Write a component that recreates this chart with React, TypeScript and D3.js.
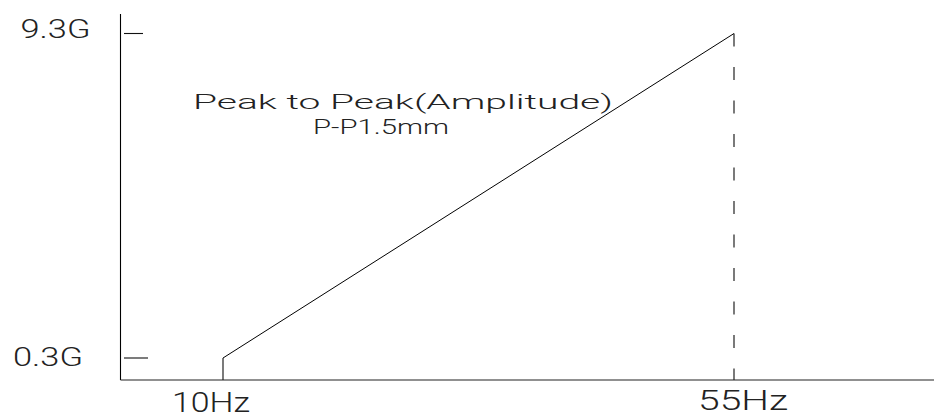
import React, { useEffect, useRef } from 'react';
import * as d3 from 'd3';

// vibration profile: constant displacement between the two frequency limits
const freqs = [10, 55];
const accels = [0.3, 9.3];
const freqLabels = ['10Hz', '55Hz'];
const accelLabels = ['0.3G', '9.3G'];
const noteLines = ['Peak to Peak(Amplitude)', 'P-P1.5mm'];

export default function App() {
  const svgRef = useRef<SVGSVGElement | null>(null);

  useEffect(() => {
    const svgEl = svgRef.current;
    if (!svgEl) return;

    const width = 934;
    const height = 418;
    const axisLeft = 120.5;
    const axisBottom = 380;
    const axisTop = 14;
    const axisRight = 934;
    const font = "Roboto, 'DejaVu Sans', sans-serif";

    const svg = d3.select(svgEl);
    svg.attr('viewBox', `0 0 ${width} ${height}`);
    svg.selectAll('*').remove();

    const x = d3.scaleLinear().domain([freqs[0], freqs[1]]).range([223, 734]);
    const y = d3.scaleLinear().domain([accels[0], accels[1]]).range([358, 33.5]);

    // axes
    svg
      .append('line')
      .attr('x1', axisLeft)
      .attr('x2', axisLeft)
      .attr('y1', axisTop)
      .attr('y2', axisBottom)
      .attr('stroke', '#000')
      .attr('stroke-width', 1.1);

    svg
      .append('line')
      .attr('x1', axisLeft)
      .attr('x2', axisRight)
      .attr('y1', axisBottom)
      .attr('y2', axisBottom)
      .attr('stroke', '#222')
      .attr('stroke-width', 1.2);

    // short ticks beside the y axis
    const tickLen = [24, 19];
    svg
      .append('g')
      .selectAll('line')
      .data(accels)
      .enter()
      .append('line')
      .attr('x1', 124)
      .attr('x2', (_d, i) => 124 + tickLen[i])
      .attr('y1', d => y(d))
      .attr('y2', d => y(d))
      .attr('stroke', '#111')
      .attr('stroke-width', 1.1);

    // profile: vertical rise at 10Hz, then the slope
    svg
      .append('line')
      .attr('x1', x(freqs[0]))
      .attr('x2', x(freqs[0]))
      .attr('y1', axisBottom)
      .attr('y2', y(accels[0]))
      .attr('stroke', '#222')
      .attr('stroke-width', 1.2);

    const line = d3
      .line<number>()
      .x((_d, i) => x(freqs[i]))
      .y(d => y(d));

    svg
      .append('path')
      .attr('d', line(accels))
      .attr('fill', 'none')
      .attr('stroke', '#000')
      .attr('stroke-width', 1);

    // dashed drop at 55Hz
    svg
      .append('line')
      .attr('x1', x(freqs[1]))
      .attr('x2', x(freqs[1]))
      .attr('y1', y(accels[1]))
      .attr('y2', axisBottom)
      .attr('stroke', '#222')
      .attr('stroke-width', 1.2)
      .attr('stroke-dasharray', '13 20.5');

    // y labels
    const yLabelX = [13, 20.5];
    const yLabelW = [70, 70];
    const yLabelDy = [7.7, 4];
    svg
      .append('g')
      .selectAll('text')
      .data(accels)
      .enter()
      .append('text')
      .attr('x', (_d, i) => yLabelX[i])
      .attr('y', (d, i) => y(d) + yLabelDy[i])
      .attr('textLength', (_d, i) => yLabelW[i])
      .attr('lengthAdjust', 'spacingAndGlyphs')
      .attr('font-family', font)
      .attr('font-weight', 300)
      .attr('font-size', 25)
      .attr('fill', '#222')
      .text((_d, i) => accelLabels[i]);

    // x labels
    const xLabelDx = [-51, -36];
    const xLabelW = [78, 90];
    const xLabelY = [412, 410];
    svg
      .append('g')
      .selectAll('text')
      .data(freqs)
      .enter()
      .append('text')
      .attr('x', (d, i) => x(d) + xLabelDx[i])
      .attr('y', (_d, i) => xLabelY[i])
      .attr('textLength', (_d, i) => xLabelW[i])
      .attr('lengthAdjust', 'spacingAndGlyphs')
      .attr('font-family', font)
      .attr('font-weight', 300)
      .attr('font-size', 27)
      .attr('fill', '#222')
      .text((_d, i) => freqLabels[i]);

    // note
    const noteX = [193, 313];
    const noteY = [108.5, 134];
    const noteW = [420, 136];
    svg
      .append('g')
      .selectAll('text')
      .data(noteLines)
      .enter()
      .append('text')
      .attr('x', (_d, i) => noteX[i])
      .attr('y', (_d, i) => noteY[i])
      .attr('textLength', (_d, i) => noteW[i])
      .attr('lengthAdjust', 'spacingAndGlyphs')
      .attr('font-family', font)
      .attr('font-weight', 300)
      .attr('font-size', 20)
      .attr('fill', '#222')
      .text(d => d);
  }, []);

  return (
    <svg
      ref={svgRef}
      width={934}
      height={418}
      style={{ position: 'absolute', left: 0, top: 0, display: 'block', background: '#fff' }}
    />
  );
}
